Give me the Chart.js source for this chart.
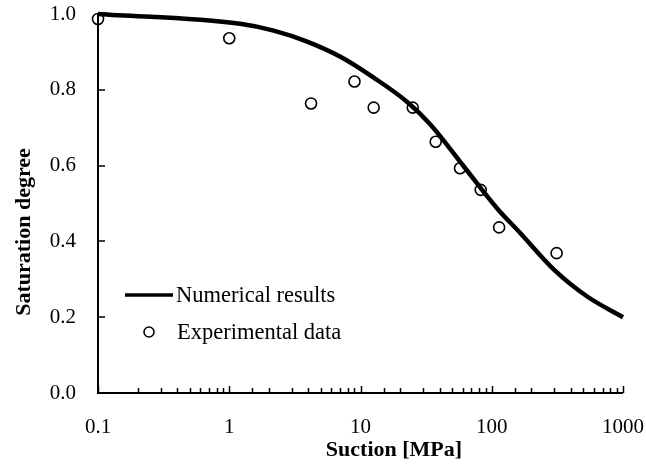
<!DOCTYPE html>
<html>
<head>
<meta charset="utf-8">
<title>Saturation degree vs suction</title>
<script src="https://cdn.jsdelivr.net/npm/chart.js@4/dist/chart.umd.min.js"></script>
<style>
  html, body { margin: 0; padding: 0; background: #fff; }
  #wrap { width: 646px; height: 468px; }
</style>
</head>
<body>
<div id="wrap"><canvas id="satChart" width="646" height="468"></canvas></div>
<script>
// --- data ---
const modelSuction = [0.1, 1.21, 2.18, 3.92, 7.03, 12.6, 22.7, 34.2, 61.5, 110, 166, 299, 537, 1000];
const modelSat = [1.0, 0.974, 0.956, 0.927, 0.887, 0.832, 0.768, 0.708, 0.597, 0.487, 0.421, 0.325, 0.254, 0.20];

const expSuction = [0.1, 1.0, 4.2, 9.0, 12.6, 25, 37.4, 57.3, 82.4, 113.8, 312];
const expSat = [0.987, 0.936, 0.764, 0.822, 0.753, 0.753, 0.663, 0.593, 0.536, 0.437, 0.369];

const xTickLabels = ["0.1", "1", "10", "100", "1000"];
const seriesNames = ["Numerical results", "Experimental data"];
const xTitle = "Suction [MPa]";
const yTitle = "Saturation degree";

const serif = "'Liberation Serif', 'Times New Roman', serif";

// inward ticks, axis lines, titles and the legend box inside the plot
const decorPlugin = {
  id: "decor",
  afterDraw(chart) {
    const ctx = chart.ctx;
    const { left, right, top, bottom } = chart.chartArea;
    const xs = chart.scales.x, ys = chart.scales.y;
    ctx.save();
    ctx.strokeStyle = "#000";
    ctx.lineWidth = 2;
    ctx.beginPath();
    ctx.moveTo(left, top);
    ctx.lineTo(left, bottom + 1);
    ctx.moveTo(left - 1, bottom);
    ctx.lineTo(right, bottom);
    ctx.stroke();

    ctx.lineWidth = 1.5;
    ctx.beginPath();
    ys.ticks.forEach((t) => {
      const py = Math.round(ys.getPixelForValue(t.value));
      ctx.moveTo(left, py);
      ctx.lineTo(left + 7, py);
    });
    xs.ticks.forEach((t) => {
      const px = Math.round(xs.getPixelForValue(t.value)) + 0.5;
      const lg = Math.log10(t.value);
      const major = Math.abs(lg - Math.round(lg)) < 1e-6;
      ctx.moveTo(px, bottom);
      ctx.lineTo(px, bottom - (major ? 7 : 5));
    });
    ctx.stroke();

    // axis titles
    ctx.fillStyle = "#000";
    ctx.font = "bold 22px " + serif;
    ctx.textAlign = "center";
    ctx.textBaseline = "middle";
    ctx.fillText(xTitle, 394, 450);
    ctx.translate(24, 232);
    ctx.rotate(-Math.PI / 2);
    ctx.fillText(yTitle, 0, 0);
    ctx.setTransform(1, 0, 0, 1, 0, 0);

    // legend
    const lineDs = chart.data.datasets[0];
    const ptDs = chart.data.datasets[1];
    ctx.strokeStyle = lineDs.borderColor;
    ctx.lineWidth = 3.5;
    ctx.beginPath();
    ctx.moveTo(125, 295);
    ctx.lineTo(173, 295);
    ctx.stroke();
    ctx.lineWidth = ptDs.borderWidth;
    ctx.beginPath();
    ctx.arc(149, 332, 5, 0, Math.PI * 2);
    ctx.stroke();
    ctx.font = "22.5px " + serif;
    ctx.textAlign = "left";
    ctx.fillText(lineDs.label, 176, 296);
    ctx.fillText(ptDs.label, 177, 333);
    ctx.restore();
  },
};

new Chart(document.getElementById("satChart"), {
  type: "scatter",
  data: {
    datasets: [
      {
        label: seriesNames[0],
        data: modelSuction.map((x, i) => ({ x: x, y: modelSat[i] })),
        showLine: true,
        borderColor: "#000",
        borderWidth: 4.5,
        pointRadius: 0,
        cubicInterpolationMode: "monotone",
        clip: false,
      },
      {
        label: seriesNames[1],
        data: expSuction.map((x, i) => ({ x: x, y: expSat[i] })),
        showLine: false,
        pointStyle: "circle",
        pointRadius: 5.5,
        borderWidth: 1.6,
        borderColor: "#000",
        backgroundColor: "rgba(255,255,255,0)",
        clip: false,
      },
    ],
  },
  options: {
    responsive: false,
    animation: false,
    events: [],
    layout: { autoPadding: false, padding: { top: 14, right: 23, left: 0, bottom: 0 } },
    plugins: {
      legend: { display: false },
      tooltip: { enabled: false },
    },
    scales: {
      x: {
        type: "logarithmic",
        min: 0.1,
        max: 1000,
        grid: { display: false, drawTicks: false },
        border: { display: false },
        ticks: {
          autoSkip: false,
          maxRotation: 0,
          padding: 22,
          color: "#000",
          font: { family: serif, size: 21 },
          callback: (v) => {
            const s = String(Number(v.toPrecision(6)));
            return xTickLabels.includes(s) ? s : "";
          },
        },
        afterFit: (scale) => {
          scale.height = 75;
          scale.paddingLeft = 0;
          scale.paddingRight = 0;
        },
      },
      y: {
        min: 0,
        max: 1,
        grid: { display: false, drawTicks: false },
        border: { display: false },
        ticks: {
          stepSize: 0.2,
          padding: 22,
          color: "#000",
          font: { family: serif, size: 21 },
          callback: (v) => v.toFixed(1),
        },
        afterFit: (scale) => {
          scale.width = 98;
          scale.paddingTop = 0;
          scale.paddingBottom = 0;
        },
      },
    },
  },
  plugins: [decorPlugin],
});
</script>
</body>
</html>
